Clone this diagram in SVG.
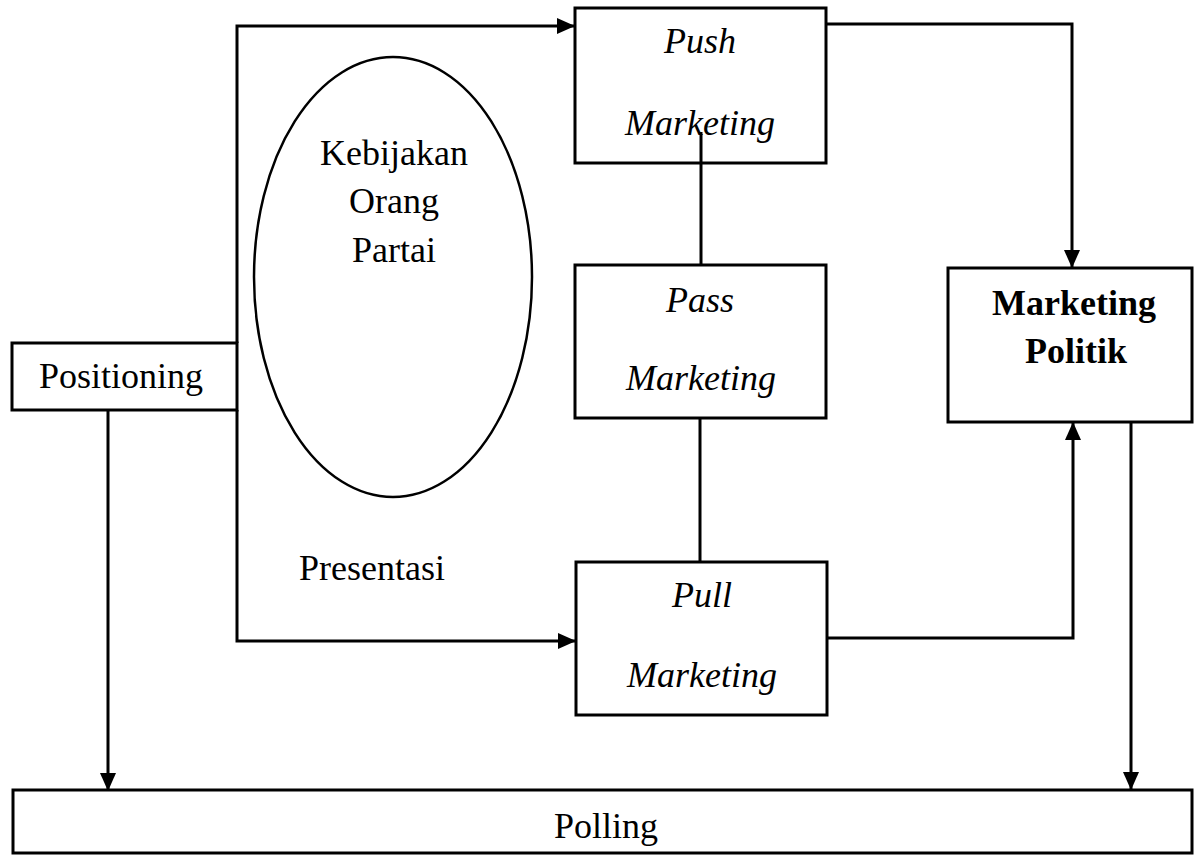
<svg xmlns="http://www.w3.org/2000/svg" width="1194" height="856" viewBox="0 0 1194 856">
  <style>
    .box { fill: #ffffff; stroke: #000000; stroke-width: 3; }
    .oval { fill: none; stroke: #000000; stroke-width: 2.5; }
    .wire { fill: none; stroke: #000000; stroke-width: 3; }
    .lbl { font-family: "Liberation Serif", "Times New Roman", serif; font-size: 36px; fill: #000000; text-anchor: middle; }
    .it { font-style: italic; }
    .bd { font-weight: bold; }
  </style>
  <defs>
    <marker id="arrow" markerUnits="userSpaceOnUse" markerWidth="18" markerHeight="16" refX="18" refY="8" orient="auto">
      <path d="M0,0 L18,8 L0,16 z" fill="#000000"/>
    </marker>
  </defs>
  <rect width="1194" height="856" fill="#ffffff"/>

  <!-- nodes -->
  <g id="positioning">
    <rect class="box" x="12" y="343" width="225" height="67"/>
    <text class="lbl" x="121" y="388">Positioning</text>
  </g>
  <g id="kebijakan">
    <ellipse class="oval" cx="393" cy="277" rx="139" ry="220"/>
    <text class="lbl" x="394" y="165">Kebijakan</text>
    <text class="lbl" x="394" y="213">Orang</text>
    <text class="lbl" x="394" y="262">Partai</text>
  </g>
  <g id="presentasi">
    <text class="lbl" x="372" y="580">Presentasi</text>
  </g>
  <g id="push">
    <rect class="box" x="575" y="8" width="251" height="155"/>
    <text class="lbl it" x="700" y="53">Push</text>
  </g>
  <g id="pass">
    <rect class="box" x="575" y="265" width="251" height="153"/>
    <text class="lbl it" x="700" y="312">Pass</text>
    <text class="lbl it" x="701" y="390">Marketing</text>
  </g>
  <g id="pull">
    <rect class="box" x="576" y="562" width="251" height="153"/>
    <text class="lbl it" x="702" y="607">Pull</text>
    <text class="lbl it" x="702" y="687">Marketing</text>
  </g>
  <g id="marketing-politik">
    <rect class="box" x="948" y="268" width="244" height="154"/>
    <text class="lbl bd" x="1074" y="315">Marketing</text>
    <text class="lbl bd" x="1076" y="363">Politik</text>
  </g>
  <g id="polling">
    <rect class="box" x="13" y="790" width="1179" height="63"/>
    <text class="lbl" x="606" y="838">Polling</text>
  </g>

  <!-- connectors -->
  <g id="connectors">
    <polyline class="wire" points="237,343 237,26 575,26" marker-end="url(#arrow)"/>
    <polyline class="wire" points="237,410 237,641 576,641" marker-end="url(#arrow)"/>
    <polyline class="wire" points="826,24 1072,24 1072,268" marker-end="url(#arrow)"/>
    <polyline class="wire" points="827,638 1073,638 1073,422" marker-end="url(#arrow)"/>
    <line class="wire" x1="1131" y1="422" x2="1131" y2="790" marker-end="url(#arrow)"/>
    <line class="wire" x1="108" y1="410" x2="108" y2="791" marker-end="url(#arrow)"/>
    <line class="wire" x1="701" y1="132" x2="701" y2="265"/>
    <line class="wire" x1="700" y1="418" x2="700" y2="562"/>
  </g>

  <!-- second line of the Push box, drawn over its connector -->
  <text class="lbl it" x="700" y="135">Marketing</text>
</svg>
